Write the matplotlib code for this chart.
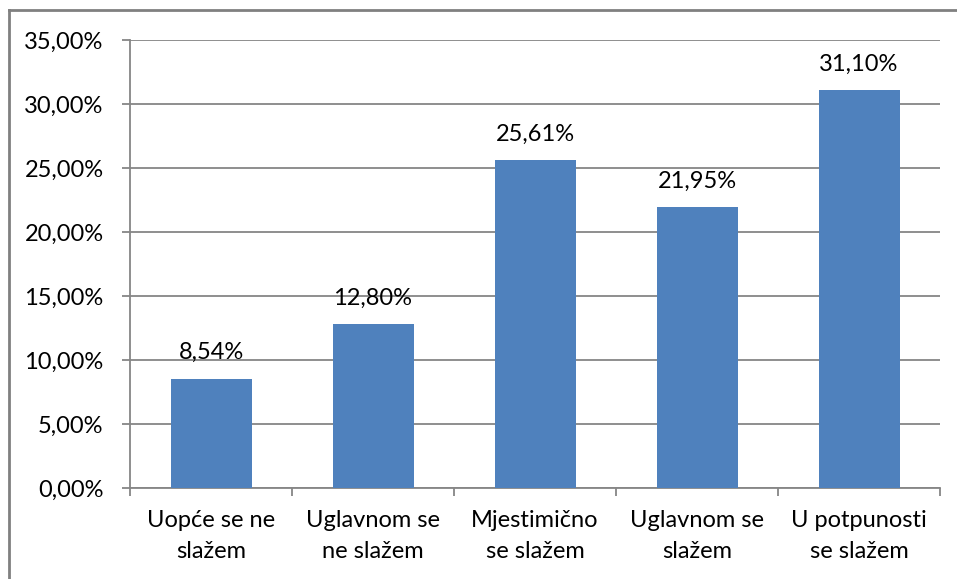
import matplotlib
matplotlib.use("Agg")
import matplotlib.pyplot as plt
from matplotlib.lines import Line2D
from matplotlib.ticker import FuncFormatter, MultipleLocator

categories = ["Uopće se ne\nslažem", "Uglavnom se\nne slažem", "Mjestimično\nse slažem",
              "Uglavnom se\nslažem", "U potpunosti\nse slažem"]
values = [8.54, 12.80, 25.61, 21.95, 31.10]

plt.rcParams["font.family"] = ["Lato", "DejaVu Sans"]

W, H = 957, 579
fig = plt.figure(figsize=(W / 100, H / 100), dpi=100)
ax = fig.add_axes([130 / W, 1 - 488 / H, 810 / W, 448 / H])

grid_c = "#868686"
fs = 17
x = range(len(values))
bars = ax.bar(x, values, width=0.5, color="#4F81BD", zorder=3)

for xi, v in zip(x, values):
    ax.text(xi, v + 1.2, f"{v:.2f}%".replace(".", ","), ha="center", va="bottom",
            fontsize=fs, color="black")

ax.set_xlim(-0.5, len(values) - 0.5)
ax.set_ylim(0, 35)
ax.yaxis.set_major_locator(MultipleLocator(5))
ax.yaxis.set_major_formatter(FuncFormatter(lambda v, p: f"{v:.2f}%".replace(".", ",")))
ax.grid(axis="y", color=grid_c, linewidth=1.3, zorder=0)

ax.set_xticks([i + 0.5 for i in range(-1, len(values))])
ax.set_xticklabels([])
ax.set_xticks(list(x), minor=True)
ax.set_xticklabels(categories, minor=True, fontsize=fs, linespacing=1.55)
ax.tick_params(axis="x", which="minor", length=0, pad=16)
ax.tick_params(axis="x", which="major", length=6, color=grid_c, width=1.3)
ax.tick_params(axis="y", length=6, color=grid_c, width=1.3, labelsize=fs, pad=13)

for s in ["top", "right"]:
    ax.spines[s].set_visible(False)
for s in ["left", "bottom"]:
    ax.spines[s].set_color(grid_c)
    ax.spines[s].set_linewidth(1.3)

# outer chart border (only left and top are inside the picture)
fig.add_artist(Line2D([9 / W, 9 / W], [0, 1 - 10 / H], color="#808080", linewidth=2))
fig.add_artist(Line2D([9 / W, 1], [1 - 10 / H, 1 - 10 / H], color="#808080", linewidth=2))

fig.savefig("out.png", dpi=100)
